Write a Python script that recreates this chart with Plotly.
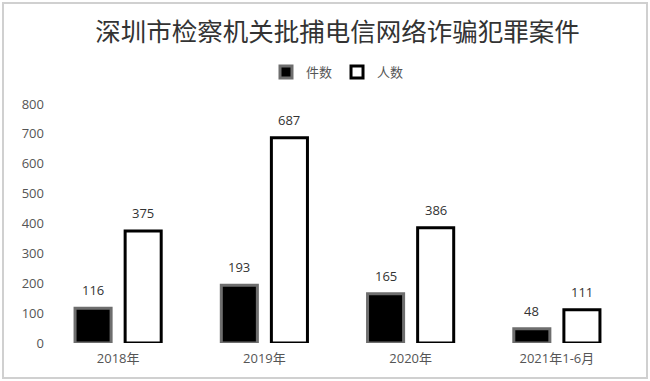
import plotly.graph_objects as go

categories = ["2018年", "2019年", "2020年", "2021年1-6月"]
cases = [116, 193, 165, 48]
people = [375, 687, 386, 111]
series_names = ["件数", "人数"]
title_text = "深圳市检察机关批捕电信网络诈骗犯罪案件"

font_family = "Noto Sans CJK SC, Noto Sans, sans-serif"

fig = go.Figure()
fig.add_trace(go.Bar(
    x=categories, y=cases, name=series_names[0],
    marker=dict(color="#000000", line=dict(color="#6e6e6e", width=3)),
))
fig.add_trace(go.Bar(
    x=categories, y=people, name=series_names[1],
    marker=dict(color="#ffffff", line=dict(color="#000000", width=3)),
))

# value labels above bars
for i, c in enumerate(categories):
    for vals, shift in ((cases, -25), (people, 25)):
        fig.add_annotation(
            x=c, y=vals[i], xref="x", yref="y", text=str(vals[i]),
            showarrow=False, xshift=shift, yshift=18,
            font=dict(size=13, color="#333333", family="Open Sans, sans-serif"),
        )

L, R, T, B = 45, 20, 104, 38
W, H = 650, 381
pw, ph = W - L - R, H - T - B
fig.add_shape(
    type="rect", xref="paper", yref="paper",
    x0=(3 - L) / pw, x1=(647 - L) / pw,
    y0=(H - B - 378) / ph, y1=(H - B - 3) / ph,
    line=dict(color="#d0d0d0", width=2), fillcolor="rgba(0,0,0,0)", layer="below",
)

fig.update_layout(
    width=W, height=H,
    margin=dict(l=L, r=R, t=T, b=B),
    paper_bgcolor="#ffffff", plot_bgcolor="#ffffff",
    title=dict(text=title_text, x=0.5, xref="paper", xanchor="center",
               y=1 - 32 / H, yref="container", yanchor="middle",
               font=dict(size=25.5, color="#333333", family=font_family)),
    legend=dict(orientation="h", x=0.5, xref="paper", xanchor="center",
                y=1 + (104 - 72) / ph, yanchor="middle",
                font=dict(size=13, color="#555555", family=font_family),
                itemwidth=30, tracegroupgap=0),
    barmode="group", bargap=0.315, bargroupgap=0.28,
    showlegend=True,
    xaxis=dict(showgrid=False, showline=False, ticks="", ticklabelstandoff=6,
               tickfont=dict(size=13, color="#555555", family="Open Sans, Noto Sans CJK SC, sans-serif")),
    yaxis=dict(range=[0, 800], dtick=100, showgrid=False, showline=False, zeroline=False,
               ticks="", tickfont=dict(size=13, color="#555555", family="Open Sans, sans-serif")),
)

fig.write_html("out.html", config={"displayModeBar": False},
               post_script="document.body.style.margin='0';")
